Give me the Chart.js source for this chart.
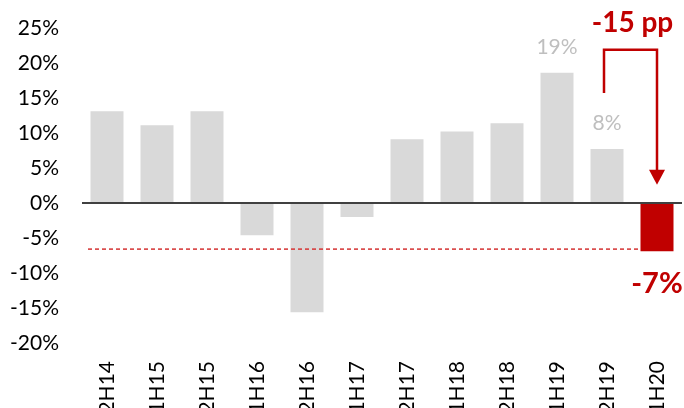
<!DOCTYPE html>
<html>
<head>
<meta charset="utf-8">
<script src="https://cdn.jsdelivr.net/npm/chart.js@4/dist/chart.umd.min.js"></script>
<style>
  html, body { margin: 0; padding: 0; background: #fff; overflow: hidden; }
  #wrap { width: 684px; height: 408px; }
</style>
</head>
<body>
<div id="wrap"><canvas id="chart"></canvas></div>
<script>
const periods = ['2H14', '1H15', '2H15', '1H16', '2H16', '1H17', '2H17', '1H18', '2H18', '1H19', '2H19', '1H20'];
const growth = [13.1, 11.1, 13.1, -4.6, -15.6, -2.0, 9.1, 10.2, 11.4, 18.6, 7.7, -6.9];
const barColors = growth.map((v, i) => i === growth.length - 1 ? '#c00000' : '#d9d9d9');
const yTicks = [25, 20, 15, 10, 5, 0, -5, -10, -15, -20];
const dashedLevel = -6.6;
const greyLabels = { 9: '19%', 10: '8%' };
const lastLabel = '-7%';
const changeLabel = '-15 pp';

const FONT = 'Lato, "Open Sans", sans-serif';
const RED = '#c00000';

// annotations: value labels, dashed reference, bracket arrow
const annotations = {
  id: 'annotations',
  afterDatasetsDraw(chart) {
    const { ctx, scales: { x, y } } = chart;
    const meta = chart.getDatasetMeta(0);
    const last = growth.length - 1;
    ctx.save();

    // dashed reference line
    const lastBar = meta.data[last];
    ctx.strokeStyle = 'rgba(214, 60, 60, 0.9)';
    ctx.lineWidth = 1.8;
    ctx.setLineDash([4, 3]);
    ctx.beginPath();
    ctx.moveTo(x.left + 6, y.getPixelForValue(dashedLevel));
    ctx.lineTo(lastBar.x - lastBar.width / 2, y.getPixelForValue(dashedLevel));
    ctx.stroke();
    ctx.setLineDash([]);

    // grey value labels
    ctx.font = '21px ' + FONT;
    ctx.fillStyle = '#bfbfbf';
    ctx.textAlign = 'center';
    ctx.textBaseline = 'middle';
    Object.keys(greyLabels).forEach(i => {
      const bar = meta.data[i];
      ctx.fillText(greyLabels[i], bar.x, bar.y - 26);
    });

    // -7% label
    ctx.font = 'bold 29px ' + FONT;
    ctx.fillStyle = RED;
    ctx.fillText(lastLabel, lastBar.x, lastBar.y + 32);

    // bracket arrow
    const x1 = x.getPixelForValue(last - 1) - 3;
    const x2 = x.getPixelForValue(last);
    const yTop = y.getPixelForValue(21.9);
    const yStart = y.getPixelForValue(15.7);
    const yTip = y.getPixelForValue(2.6);
    ctx.strokeStyle = RED;
    ctx.lineWidth = 2.5;
    ctx.beginPath();
    ctx.moveTo(x1, yStart);
    ctx.lineTo(x1, yTop);
    ctx.lineTo(x2, yTop);
    ctx.lineTo(x2, yTip - 14);
    ctx.stroke();
    ctx.fillStyle = RED;
    ctx.beginPath();
    ctx.moveTo(x2 - 8, yTip - 15);
    ctx.lineTo(x2 + 8, yTip - 15);
    ctx.lineTo(x2, yTip);
    ctx.closePath();
    ctx.fill();

    // -15 pp label
    ctx.font = 'bold 28px ' + FONT;
    ctx.fillText(changeLabel, (x1 + x2) / 2 + 2, y.getPixelForValue(25.7));
    ctx.restore();
  }
};

new Chart(document.getElementById('chart'), {
  type: 'bar',
  data: {
    labels: periods,
    datasets: [{
      data: growth,
      backgroundColor: barColors,
      borderWidth: 0,
      barPercentage: 0.66,
      categoryPercentage: 1
    }]
  },
  options: {
    responsive: true,
    maintainAspectRatio: false,
    animation: false,
    layout: { padding: { top: 28, right: 2, left: 0, bottom: 0 } },
    plugins: {
      legend: { display: false },
      tooltip: { enabled: false }
    },
    scales: {
      x: {
        grid: { display: false },
        border: { display: false },
        afterFit: s => { s.height = 65; s.paddingLeft = 0; s.paddingRight = 0; },
        ticks: {
          maxRotation: 90,
          minRotation: 90,
          padding: 10,
          color: '#000',
          font: { family: FONT, size: 21 }
        }
      },
      y: {
        min: -20,
        max: 25,
        afterFit: s => { s.width = 82; s.paddingTop = 0; s.paddingBottom = 0; },
        afterBuildTicks: s => { s.ticks = yTicks.map(v => ({ value: v })); },
        border: { display: false },
        grid: {
          drawTicks: false,
          color: c => c.tick && c.tick.value === 0 ? '#404040' : 'rgba(0,0,0,0)',
          lineWidth: c => c.tick && c.tick.value === 0 ? 2 : 0
        },
        ticks: {
          padding: 23,
          color: '#000',
          font: { family: FONT, size: 21 },
          callback: v => v + '%'
        }
      }
    }
  },
  plugins: [annotations]
});
</script>
</body>
</html>
